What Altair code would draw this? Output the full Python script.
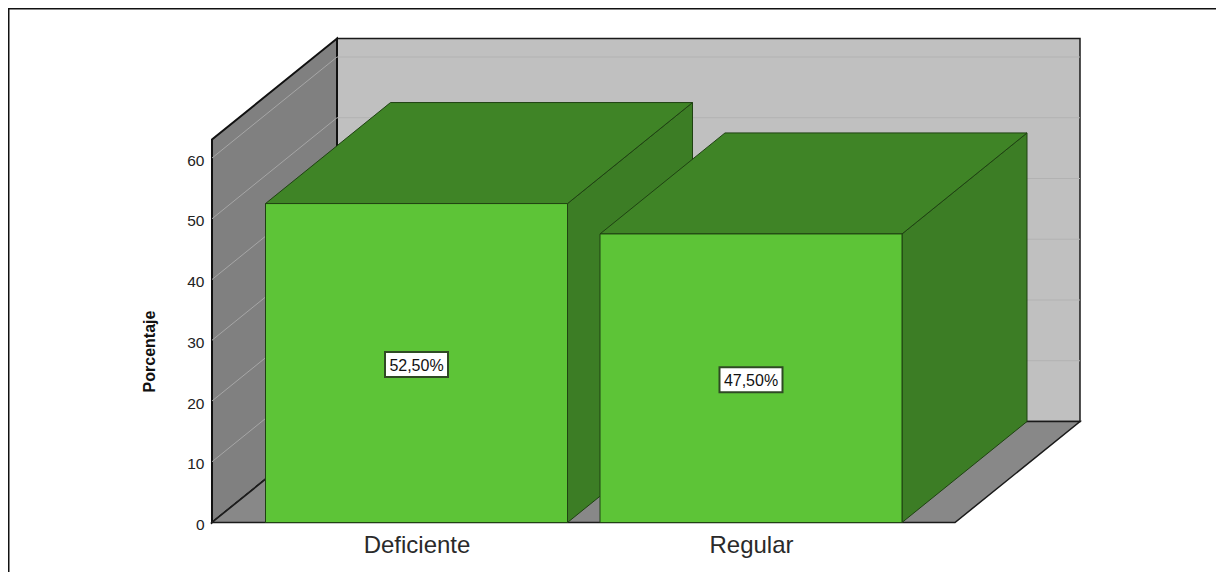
import altair as alt
import pandas as pd

categories = ["Deficiente", "Regular"]
values = [52.5, 47.5]
labels = ["52,50%", "47,50%"]
y_ticks = [0, 10, 20, 30, 40, 50, 60]

# Chart frame and projection, expressed in axis units
PX_PER_X = 302.0
PX_PER_Y = 6.075
LEFT_PX, BASE_PX = 212.0, 522.5
FRAME_L, FRAME_T, FRAME_R, FRAME_B = 8.0, 8.0, 1216.0, 572.0
DX = 125.0 / PX_PER_X
DY = 101.0 / PX_PER_Y
WALL_TOP = 383.0 / PX_PER_Y
FLOOR_W = 743.0 / PX_PER_X
BAR_STARTS = [53.5 / PX_PER_X, 388.0 / PX_PER_X]
BAR_W = 1.0

X_MIN, X_MAX = (FRAME_L - LEFT_PX) / PX_PER_X, (FRAME_R - LEFT_PX) / PX_PER_X
Y_MIN, Y_MAX = (BASE_PX - FRAME_B) / PX_PER_Y, (BASE_PX - FRAME_T) / PX_PER_Y
x_scale = alt.Scale(domain=[X_MIN, X_MAX], nice=False, zero=False)
y_scale = alt.Scale(domain=[Y_MIN, Y_MAX], nice=False, zero=False)

FONT = "Liberation Sans"
FRONT, TOP, SIDE = "#5dc437", "#3f8426", "#3c7d25"
BAR_EDGE = "#1f4212"
WALL_EDGE = "#1a1a1a"


def X(field="x"):
    return alt.X(field, type="quantitative", scale=x_scale, stack=None)


def Y(field="y"):
    return alt.Y(field, type="quantitative", scale=y_scale, stack=None)


def horiz(rows, fill, stroke, sw=1.0):
    return alt.Chart(pd.DataFrame(rows)).mark_area(
        orient="horizontal", fill=fill, stroke=stroke, strokeWidth=sw
    ).encode(y=Y("y"), x=X("x"), x2="x2:Q")


def vert(rows, fill, stroke, sw=1.0):
    return alt.Chart(pd.DataFrame(rows)).mark_area(
        orient="vertical", fill=fill, stroke=stroke, strokeWidth=sw
    ).encode(x=X("x"), y=Y("y"), y2="y2:Q")


# Back wall carries the real axes
axis_df = pd.DataFrame({"x": [DX], "x2": [DX + FLOOR_W], "y": [DY], "y2": [DY + WALL_TOP]})
back = alt.Chart(axis_df).mark_rect(fill="#c0c0c0", stroke=WALL_EDGE, strokeWidth=1.5).encode(
    x=alt.X(
        "x:Q", scale=x_scale, title=" ",
        axis=alt.Axis(
            orient="bottom", offset=(BASE_PX - FRAME_B),
            values=[s + BAR_W / 2 for s in BAR_STARTS],
            labelExpr="datum.index == 0 ? '%s' : '%s'" % tuple(categories),
            domain=False, ticks=False, grid=False, labelFont=FONT, labelFontSize=24,
            labelColor="#2a2a2a", labelPadding=11, labelFlush=False, labelOverlap=False,
        ),
    ),
    x2="x2:Q",
    y=alt.Y(
        "y:Q", scale=y_scale, title="Porcentaje",
        axis=alt.Axis(
            orient="left", offset=-(LEFT_PX - FRAME_L), values=y_ticks, format="d",
            domain=False, ticks=False, grid=False, labelFont=FONT, labelFontSize=15.5,
            labelColor="#222222", labelPadding=8, labelOffset=2, labelFlush=False, labelOverlap=False,
            titleFont=FONT, titleFontSize=16, titleFontWeight="bold",
            titleColor="#111111", titleX=-55, titleY=343, titleAngle=270,
        ),
    ),
    y2="y2:Q",
)

left_wall = vert(
    [{"x": 0, "y": 0, "y2": WALL_TOP}, {"x": DX, "y": DY, "y2": DY + WALL_TOP}],
    "#808080", "#111111", 2,
)

grid_left = alt.Chart(
    pd.DataFrame(
        [{"x": 0, "y": t, "t": t} for t in y_ticks] + [{"x": DX, "y": t + DY, "t": t} for t in y_ticks]
    )
).mark_line(color="#a6a6a6", strokeWidth=1).encode(x=X("x"), y=Y("y"), detail="t:N")

grid_back = alt.Chart(
    pd.DataFrame(
        [{"x": DX, "y": t + DY, "t": t} for t in y_ticks[1:]]
        + [{"x": DX + FLOOR_W, "y": t + DY, "t": t} for t in y_ticks[1:]]
    )
).mark_line(color="#b2b2b2", strokeWidth=1).encode(x=X("x"), y=Y("y"), detail="t:N")

floor = horiz(
    [{"y": 0, "x": 0, "x2": FLOOR_W}, {"y": DY, "x": DX, "x2": DX + FLOOR_W}],
    "#888888", WALL_EDGE, 1.5,
)

# Picture frame: only the top and left edges are visible in the reference
frame_top = alt.Chart(pd.DataFrame({"x": [X_MIN], "x2": [X_MAX], "y": [Y_MAX]})).mark_rule(
    color="#111111", strokeWidth=3
).encode(x=X("x"), x2="x2:Q", y=Y("y"))
frame_left = alt.Chart(pd.DataFrame({"x": [X_MIN], "y": [Y_MIN], "y2": [Y_MAX]})).mark_rule(
    color="#111111", strokeWidth=3
).encode(x=X("x"), y=Y("y"), y2="y2:Q")

layers = [back, left_wall, grid_left, grid_back, floor, frame_top, frame_left]

for start, val in zip(BAR_STARTS, values):
    end = start + BAR_W
    layers.append(
        vert(
            [{"x": end, "y": 0, "y2": val}, {"x": end + DX, "y": DY, "y2": val + DY}],
            SIDE, BAR_EDGE,
        )
    )
    layers.append(
        horiz(
            [{"y": val, "x": start, "x2": end}, {"y": val + DY, "x": start + DX, "x2": end + DX}],
            TOP, BAR_EDGE,
        )
    )
    layers.append(
        alt.Chart(pd.DataFrame([{"x": start, "x2": end, "y": 0, "y2": val}]))
        .mark_rect(fill=FRONT, stroke=BAR_EDGE, strokeWidth=1)
        .encode(x=X("x"), x2="x2:Q", y=Y("y"), y2="y2:Q")
    )

lab_df = pd.DataFrame(
    {
        "x": [s + BAR_W / 2 for s in BAR_STARTS],
        "y": [v / 2 - 0.25 for v in values],
        "label": labels,
    }
)
layers.append(
    alt.Chart(lab_df).mark_rect(width=63, height=25, fill="#ffffff", stroke="#2f4a24", strokeWidth=2)
    .encode(x=X("x"), y=Y("y"))
)
layers.append(
    alt.Chart(lab_df).mark_text(font=FONT, fontSize=16, color="#111111", align="center", baseline="middle", dy=1)
    .encode(x=X("x"), y=Y("y"), text="label:N")
)

chart = (
    alt.layer(*layers)
    .properties(
        width=FRAME_R - FRAME_L,
        height=FRAME_B - FRAME_T,
        padding=0,
        autosize=alt.AutoSizeParams(type="none"),
        background="#ffffff",
    )
    .configure_view(stroke=None)
)

chart.save("out.html", embed_options={"renderer": "svg", "actions": False})
